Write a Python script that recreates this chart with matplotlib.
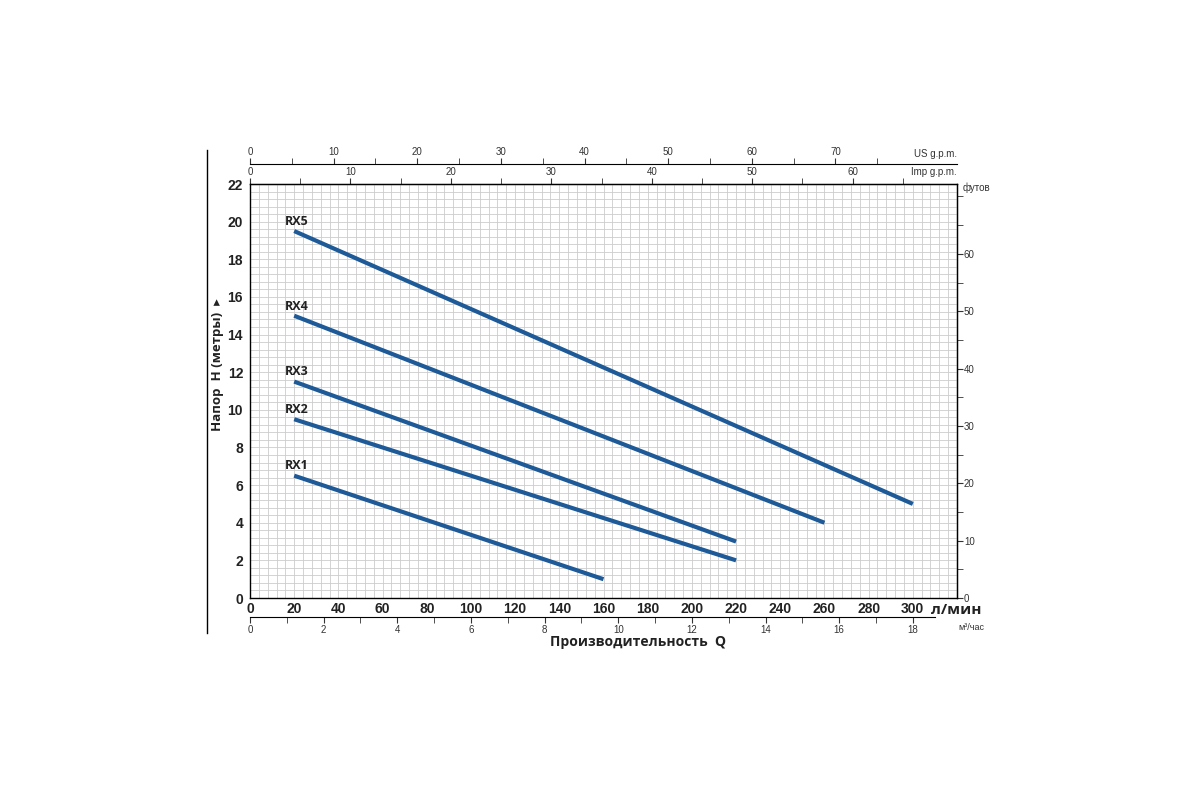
import matplotlib
matplotlib.use("Agg")
import matplotlib.pyplot as plt
from matplotlib.lines import Line2D
from matplotlib.ticker import MultipleLocator, FixedLocator

# pump curves: flow (l/min) and head (m)
models = ["RX1", "RX2", "RX3", "RX4", "RX5"]
q_rx1 = [20, 160]
h_rx1 = [6.5, 1.0]
q_rx2 = [20, 220]
h_rx2 = [9.5, 2.0]
q_rx3 = [20, 220]
h_rx3 = [11.5, 3.0]
q_rx4 = [20, 260]
h_rx4 = [15.0, 4.0]
q_rx5 = [20, 300]
h_rx5 = [19.5, 5.0]

flow_ticks = list(range(0, 301, 20))
head_ticks = list(range(0, 23, 2))
imp_ticks = list(range(0, 61, 10))
us_ticks = list(range(0, 71, 10))
m3h_ticks = list(range(0, 19, 2))
feet_ticks = list(range(0, 61, 10))

narrow = "Liberation Sans"
bold_font = ["Open Sans", "DejaVu Sans"]

LINE = "#1d5a97"
GRID = "#cccccc"

fig = plt.figure(figsize=(12, 8), dpi=100)
ax = fig.add_axes([250 / 1200, 1 - 598 / 800, 707 / 1200, 414 / 800])

curves = [(q_rx1, h_rx1), (q_rx2, h_rx2), (q_rx3, h_rx3), (q_rx4, h_rx4), (q_rx5, h_rx5)]
for name, (q, h) in zip(models, curves):
    ax.plot(q, h, color=LINE, lw=3, solid_capstyle="butt", zorder=3)
    ax.annotate(name, (q[0], h[0]), xytext=(2, 7), textcoords="offset points",
                ha="center", va="center", fontsize=9, fontweight="bold",
                family=bold_font, color="#222222")

ax.set_xlim(0, 320)
ax.set_ylim(0, 22)
ax.xaxis.set_major_locator(FixedLocator(flow_ticks))
ax.yaxis.set_major_locator(FixedLocator(head_ticks))
ax.xaxis.set_minor_locator(MultipleLocator(4))
ax.yaxis.set_minor_locator(MultipleLocator(0.4))
ax.grid(which="both", color=GRID, lw=0.6)
ax.set_axisbelow(True)
ax.tick_params(which="both", length=0)
ax.tick_params(axis="x", pad=3)
ax.tick_params(axis="y", pad=5)
for lab in ax.get_xticklabels() + ax.get_yticklabels():
    lab.set_fontfamily(narrow)
    lab.set_fontweight("bold")
    lab.set_fontsize(10)
    lab.set_color("#222222")
for s in ["left", "bottom", "top", "right"]:
    ax.spines[s].set_linewidth(1.0)

# secondary scales
imp = 4.54609
us = 3.78541
ax_imp = ax.secondary_xaxis("top", functions=(lambda x: x / imp, lambda g: g * imp))
ax_imp.set_xticks(imp_ticks)
ax_imp.xaxis.set_minor_locator(FixedLocator([5, 15, 25, 35, 45, 55, 65]))
ax_imp.tick_params(which="both", length=4, direction="out", labelsize=7, pad=1, colors="#333333")

ax_us = ax.secondary_xaxis(1 + 20 / 414, functions=(lambda x: x / us, lambda g: g * us))
ax_us.set_xticks(us_ticks)
ax_us.xaxis.set_minor_locator(FixedLocator([5, 15, 25, 35, 45, 55, 65, 75]))
ax_us.tick_params(which="both", length=4, direction="out", labelsize=7, pad=1, colors="#333333")

ax_m3 = ax.secondary_xaxis(-19 / 414, functions=(lambda x: x * 0.06, lambda m: m / 0.06))
ax_m3.set_xticks(m3h_ticks)
ax_m3.xaxis.set_minor_locator(FixedLocator(list(range(1, 18, 2))))
ax_m3.tick_params(which="both", length=4, direction="out", labelsize=7, pad=2, colors="#333333")
ax_m3.spines["bottom"].set_bounds(0, 18.6)

ax_ft = ax.secondary_yaxis("right", functions=(lambda m: m / 0.3048, lambda f: f * 0.3048))
ax_ft.set_yticks(feet_ticks)
ax_ft.yaxis.set_minor_locator(FixedLocator([5, 15, 25, 35, 45, 55, 65, 70]))
ax_ft.tick_params(which="both", length=4, direction="out", labelsize=7, pad=1, colors="#333333")

for sec in [ax_imp, ax_us, ax_m3, ax_ft]:
    for lab in sec.get_xticklabels() + sec.get_yticklabels():
        lab.set_fontfamily(narrow)

# unit labels
ax.text(1.0, 1 + 30 / 414, "US g.p.m.", transform=ax.transAxes, ha="right", va="center",
        fontsize=7, family=narrow, color="#333333")
ax.text(1.0, 1 + 12 / 414, "Imp g.p.m.", transform=ax.transAxes, ha="right", va="center",
        fontsize=7, family=narrow, color="#333333")
ax.text(1.008, 1 - 4 / 414, "футов", transform=ax.transAxes, ha="left", va="center",
        fontsize=7, family=narrow, color="#333333")
ax.text(1.0 - 26 / 707, -12 / 414, "л/мин", transform=ax.transAxes, ha="left", va="center",
        fontsize=11, fontweight="bold", family=bold_font, color="#222222")
ax.text(1.0 + 1 / 707, -30 / 414, "м³/час", transform=ax.transAxes, ha="left", va="center",
        fontsize=6.5, family=narrow, color="#333333")

fig.text(638 / 1200, 1 - 642 / 800, "Производительность  Q", ha="center", va="center",
         fontsize=10, fontweight="bold", family=bold_font, color="#222222")
fig.text(217 / 1200, 1 - 365 / 800, "Напор  H (метры)  ▸", rotation=90, ha="center", va="center",
         fontsize=9.5, fontweight="bold", family=bold_font, color="#222222")

fig.add_artist(Line2D([207 / 1200, 207 / 1200], [1 - 150 / 800, 1 - 633 / 800], color="black", lw=1))

fig.savefig("out.png", dpi=100)
